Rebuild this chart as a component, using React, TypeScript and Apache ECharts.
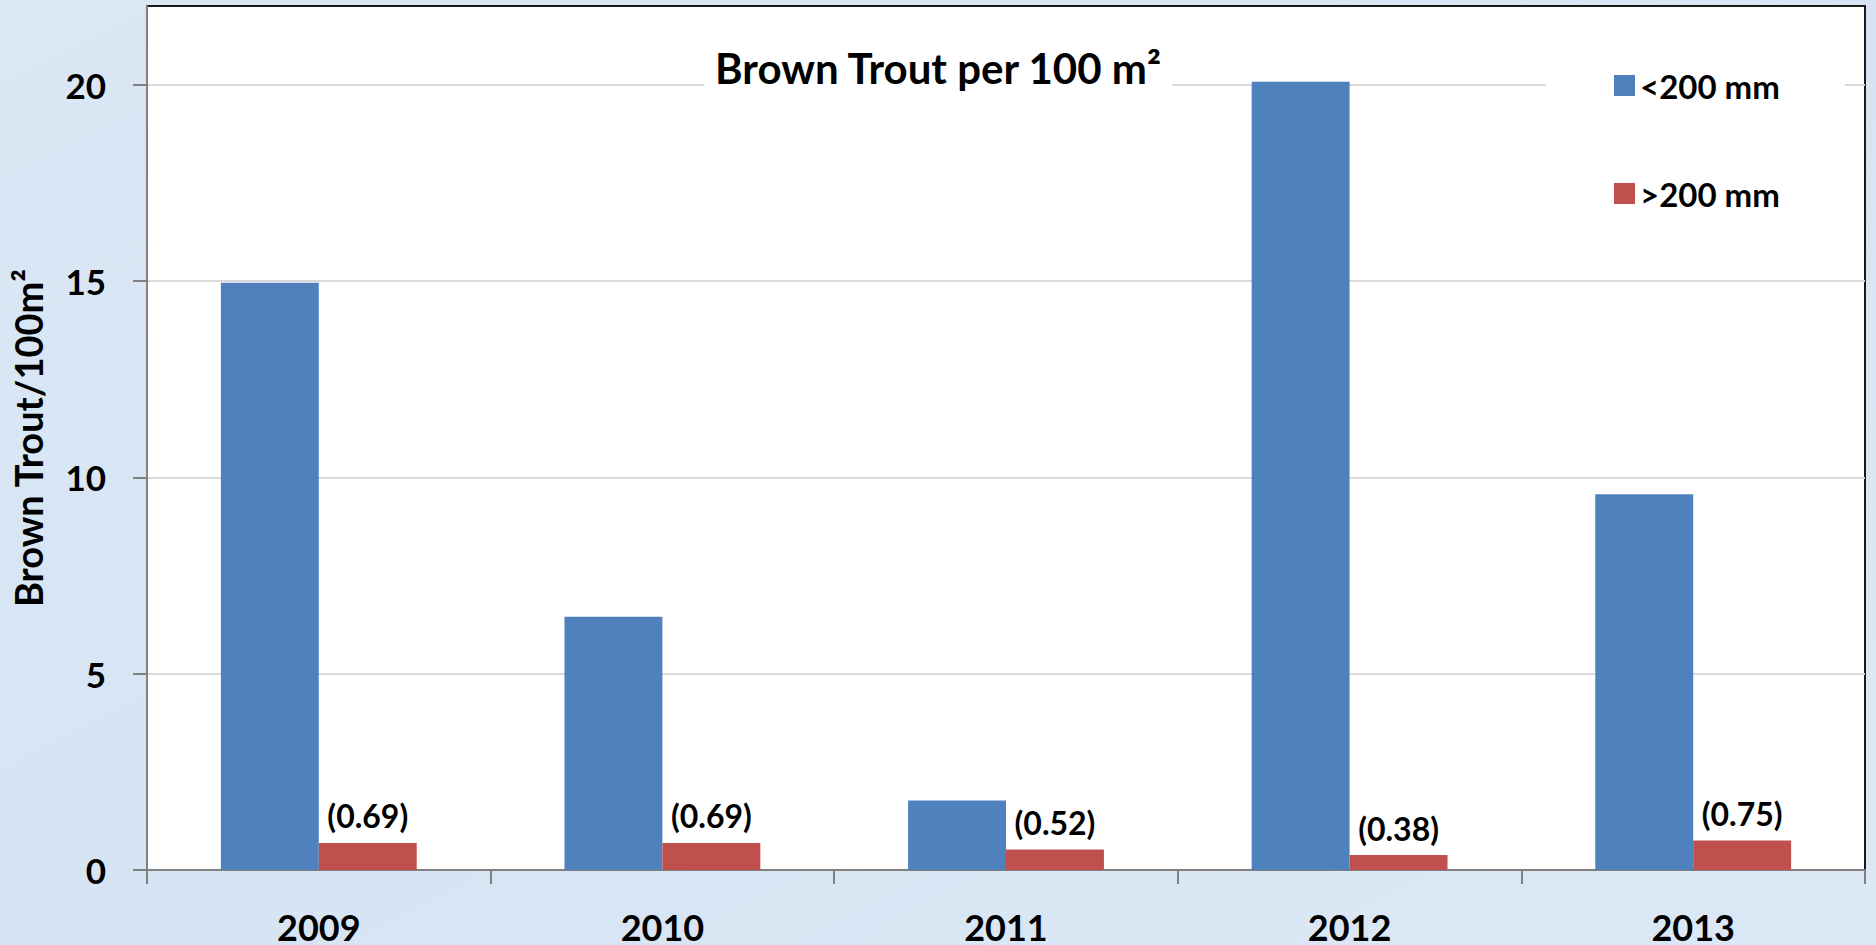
import React, { useEffect, useRef } from "react";
import * as echarts from "echarts";

const years = ["2009", "2010", "2011", "2012", "2013"];
const under200 = [14.95, 6.45, 1.77, 20.07, 9.57];
const over200 = [0.69, 0.69, 0.52, 0.38, 0.75];
const yTicks = [0, 5, 10, 15, 20];
const seriesNames = ["<200 mm", ">200 mm"];
const FONT = "Lato";

export default function App() {
  const ref = useRef<HTMLDivElement>(null);
  useEffect(() => {
    if (!ref.current) return;
    const chart = echarts.init(ref.current, null, { renderer: "svg" });
    chart.setOption({
      animation: false,
      backgroundColor: {
        type: "linear",
        x: 0, y: 0, x2: 1, y2: 1,
        colorStops: [
          { offset: 0, color: "#dbe7f5" },
          { offset: 0.5, color: "#d6e4f3" },
          { offset: 1, color: "#dce8f5" },
        ],
      },
      title: {
        text: "Brown Trout per 100 m²",
        left: "center",
        top: 43,
        backgroundColor: "#ffffff",
        padding: [4, 10, 2, 10],
        textStyle: { fontFamily: FONT, fontWeight: "bold", fontSize: 42, color: "#000" },
      },
      legend: {
        data: seriesNames,
        orient: "vertical",
        left: 1546,
        top: 59,
        backgroundColor: "#ffffff",
        padding: [10, 65, 20, 68],
        itemWidth: 21,
        itemHeight: 21,
        itemGap: 75,
        icon: "rect",
        textStyle: { fontFamily: FONT, fontWeight: "bold", fontSize: 33, color: "#000" },
      },
      grid: {
        left: 147,
        right: 11,
        top: 6,
        bottom: 73,
        show: true,
        backgroundColor: "#ffffff",
        borderColor: "#1a1a1a",
        borderWidth: 2,
        containLabel: false,
      },
      xAxis: {
        type: "category",
        data: years,
        axisLine: { lineStyle: { color: "#808080", width: 2 } },
        axisTick: { show: true, length: 14, lineStyle: { color: "#808080", width: 2 } },
        axisLabel: {
          margin: 39,
          fontFamily: FONT,
          fontWeight: "bold",
          fontSize: 36,
          color: "#000",
        },
      },
      yAxis: {
        type: "value",
        min: 0,
        max: 22,
        interval: 5,
        name: "Brown Trout/100m²",
        nameLocation: "middle",
        nameGap: 100,
        nameTextStyle: { fontFamily: FONT, fontWeight: "bold", fontSize: 38, color: "#000" },
        axisLine: { show: true, lineStyle: { color: "#808080", width: 2 } },
        axisTick: { show: true, length: 14, lineStyle: { color: "#808080", width: 2 }, customValues: yTicks },
        axisLabel: {
          margin: 41,
          fontFamily: FONT,
          fontWeight: "bold",
          fontSize: 35,
          color: "#000",
          customValues: yTicks,
        },
        splitLine: { show: true, lineStyle: { color: "#d9d9d9", width: 2 } },
      },
      series: [
        {
          name: seriesNames[0],
          type: "bar",
          data: under200,
          barGap: "0%",
          barCategoryGap: "43%",
          itemStyle: { color: "#4f81bd" },
        },
        {
          name: seriesNames[1],
          type: "bar",
          data: over200,
          itemStyle: { color: "#c0504d" },
          label: {
            show: true,
            position: "top",
            distance: 11,
            formatter: (p: any) => "(" + p.value.toFixed(2) + ")",
            fontFamily: FONT,
            fontWeight: "bold",
            fontSize: 32,
            color: "#000",
          },
        },
      ],
    });
    return () => chart.dispose();
  }, []);
  return (
    <div
      ref={ref}
      style={{ position: "absolute", left: 0, top: 0, width: 1876, height: 945 }}
    />
  );
}
